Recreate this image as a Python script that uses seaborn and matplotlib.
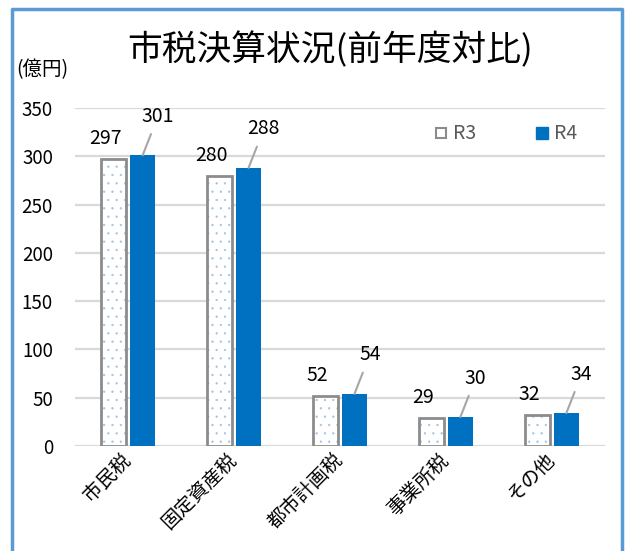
import seaborn as sns
import pandas as pd
import matplotlib.pyplot as plt
from matplotlib.lines import Line2D
from matplotlib.patches import Rectangle

# データ（億円）
categories = ['市民税', '固定資産税', '都市計画税', '事業所税', 'その他']
years = ['R3', 'R4']
r3_values = [297, 280, 52, 29, 32]
r4_values = [301, 288, 54, 30, 34]
yticks = [0, 50, 100, 150, 200, 250, 300, 350]

sns.set_theme(style='white')
plt.rcParams['font.family'] = ['Noto Sans CJK JP', 'DejaVu Sans']
plt.rcParams['hatch.linewidth'] = 0.4

df = pd.DataFrame({
    'category': categories * 2,
    'year': ['R3'] * len(categories) + ['R4'] * len(categories),
    'value': r3_values + r4_values,
})

c_r4 = '#0070C0'
c_r3_edge = '#8C8C8C'
c_dot = '#9DC3E6'
c_grid = '#D9D9D9'

fig = plt.figure(figsize=(6.26, 5.51), dpi=100)
ax = fig.add_axes([0.12, 0.1906, 0.846, 0.6134])

sns.barplot(data=df, x='category', y='value', hue='year', hue_order=years,
            palette={'R3': 'white', 'R4': c_r4}, width=0.55, gap=0.15,
            saturation=1, legend=False, ax=ax, linewidth=0)

ax.set_ylim(0, 350)
ax.set_xlim(-0.5, len(categories) - 0.5)
ax.set_yticks(yticks)
ax.yaxis.grid(True, color=c_grid, lw=1.6)
ax.set_axisbelow(True)
for s in ax.spines.values():
    s.set_visible(False)
ax.set_xlabel('')
ax.set_ylabel('')
ax.tick_params(axis='y', length=0, pad=16, labelsize=13.5, labelcolor='black')
ax.tick_params(axis='x', length=0, pad=8, labelsize=14, labelcolor='black')
for lab in ax.get_xticklabels():
    lab.set_rotation(45)
    lab.set_ha('right')
    lab.set_va('center')
    lab.set_rotation_mode('anchor')

# R3: 点模様 + 灰色の枠
for p in ax.containers[0]:
    p.set_hatch('..')
    p.set_edgecolor(c_dot)
    p.set_linewidth(0)
    ax.add_patch(Rectangle(p.get_xy(), p.get_width(), p.get_height(),
                           fill=False, edgecolor=c_r3_edge, lw=2, zorder=3))

# データラベル
for p, v in zip(ax.containers[0], r3_values):
    ax.annotate(str(v), (p.get_x() + p.get_width() / 2, p.get_height()),
                xytext=(-6, 7), textcoords='offset points',
                ha='center', va='bottom', fontsize=14, color='black')
for p, v in zip(ax.containers[1], r4_values):
    ax.annotate(str(v), (p.get_x() + p.get_width() / 2, p.get_height()),
                xytext=(11, 28), textcoords='offset points',
                ha='center', va='center', fontsize=14, color='black',
                arrowprops=dict(arrowstyle='-', color='#A6A6A6', lw=1.5,
                                shrinkA=3, shrinkB=0))

# 凡例
handles = [
    Line2D([], [], marker='s', ls='none', markersize=7, markerfacecolor='white',
           markeredgecolor=c_r3_edge, markeredgewidth=1.5),
    Line2D([], [], marker='s', ls='none', markersize=8, markerfacecolor=c_r4,
           markeredgecolor=c_r4),
]
fig.legend(handles, years, loc='center left', bbox_to_anchor=(0.693, 0.757),
           ncol=2, frameon=False, fontsize=14, labelcolor='#595959',
           handlelength=0.7, handletextpad=0.3, columnspacing=3.0,
           borderpad=0, borderaxespad=0)

# タイトル・単位
fig.text(0.527, 1 - 50 / 551, '市税決算状況(前年度対比)', ha='center', va='center',
         fontsize=25, color='black')
fig.text(0.026, 1 - 70 / 551, '(億円)', ha='left', va='center',
         fontsize=14, color='black')

# 外枠（下辺なし）
bc = '#5B9BD5'
x0, x1, y1 = 12 / 626, 622 / 626, 1 - 9 / 551
fig.add_artist(Line2D([x0, x0, x1, x1], [0, y1, y1, 0], color=bc, lw=2.5,
                      transform=fig.transFigure))

fig.savefig('out.png', dpi=100)
